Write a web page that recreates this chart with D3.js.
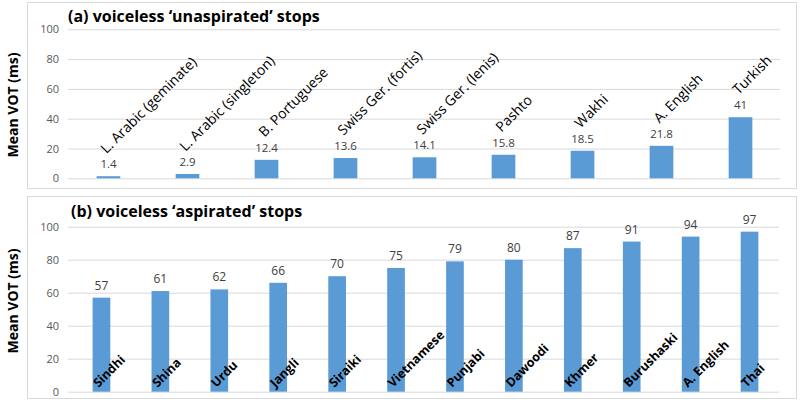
<!DOCTYPE html>
<html>
<head>
<meta charset="utf-8">
<script src="https://cdn.jsdelivr.net/npm/d3@7"></script>
<style>
  body { margin: 0; background: #fff; }
  svg { display: block; font-family: "Open Sans", sans-serif; }
</style>
</head>
<body>
<svg id="chart"></svg>
<script>
const catsA = ["L. Arabic (geminate)", "L. Arabic (singleton)", "B. Portuguese", "Swiss Ger. (fortis)",
  "Swiss Ger. (lenis)", "Pashto", "Wakhi", "A. English", "Turkish"];
const valsA = [1.4, 2.9, 12.4, 13.6, 14.1, 15.8, 18.5, 21.8, 41];
const labelsA = ["1.4", "2.9", "12.4", "13.6", "14.1", "15.8", "18.5", "21.8", "41"];

const catsB = ["Sindhi", "Shina", "Urdu", "Jangli", "Siraiki", "Vietnamese", "Punjabi", "Dawoodi",
  "Khmer", "Burushaski", "A. English", "Thai"];
const valsB = [57, 61, 62, 66, 70, 75, 79, 80, 87, 91, 94, 97];

const yTicks = [0, 20, 40, 60, 80, 100];
const titleA = "(a) voiceless \u2018unaspirated\u2019 stops";
const titleB = "(b) voiceless \u2018aspirated\u2019 stops";
const yTitle = "Mean VOT (ms)";

const width = 800, height = 402;
const blue = "#5b9bd5";

const svg = d3.select("#chart").attr("width", width).attr("height", height);

function panel(opt) {
  const g = svg.append("g");

  // frame
  g.append("rect")
    .attr("x", opt.box[0] + 0.5).attr("y", opt.box[1] + 0.5)
    .attr("width", opt.box[2] - opt.box[0]).attr("height", opt.box[3] - opt.box[1])
    .attr("fill", "#fff").attr("stroke", "#d9d9d9");

  const x = d3.scaleBand().domain(opt.cats).range([opt.left, opt.right]);
  const y = d3.scaleLinear().domain([0, 100]).range([opt.bottom, opt.top]);

  // gridlines + tick labels
  const yAxis = g.append("g")
    .attr("transform", `translate(${opt.gridLeft},0)`)
    .call(d3.axisLeft(y).tickValues(yTicks).tickSize(-(opt.right - opt.gridLeft)).tickPadding(9));
  yAxis.select(".domain").remove();
  yAxis.selectAll(".tick line").attr("stroke", "#d9d9d9");
  yAxis.selectAll(".tick text").attr("fill", "#595959").attr("font-size", 11)
    .attr("font-family", "Open Sans, sans-serif");

  const bw = x.bandwidth() * 0.3;
  const data = opt.cats.map((c, i) => ({ c, v: opt.vals[i], i }));

  g.selectAll("rect.bar").data(data).join("rect")
    .attr("class", "bar")
    .attr("x", d => x(d.c) + (x.bandwidth() - bw) / 2)
    .attr("width", bw)
    .attr("y", d => y(d.v))
    .attr("height", d => y(0) - y(d.v))
    .attr("fill", blue);

  // value labels
  g.selectAll("text.val").data(data).join("text")
    .attr("class", "val")
    .attr("x", d => x(d.c) + x.bandwidth() / 2)
    .attr("y", d => y(d.v) - 8)
    .attr("text-anchor", "middle")
    .attr("fill", "#404040")
    .attr("font-size", opt.valSize)
    .text(d => opt.valText ? opt.valText[d.i] : d.v);

  // category labels, rotated
  g.selectAll("text.cat").data(data).join("text")
    .attr("class", "cat")
    .attr("transform", d => `translate(${x(d.c) + x.bandwidth() / 2 + opt.catDx},${opt.catY(y, d.v)}) rotate(-45)`)
    .attr("fill", "#000")
    .attr("font-size", opt.catSize)
    .attr("font-weight", opt.catBold ? "bold" : "normal")
    .text(d => d.c);

  // title
  g.append("text")
    .attr("x", opt.left - 1).attr("y", opt.titleY)
    .attr("font-size", 16).attr("font-weight", "bold").attr("fill", "#000")
    .text(opt.title);

  // y axis title
  g.append("text")
    .attr("transform", `translate(18,${opt.yTitleY}) rotate(-90)`)
    .attr("text-anchor", "middle")
    .attr("font-size", 14).attr("font-weight", "bold").attr("fill", "#000")
    .text(yTitle);
}

panel({
  box: [27, 2, 796, 188],
  cats: catsA, vals: valsA, valText: labelsA,
  left: 69, right: 780, gridLeft: 68, top: 29.3, bottom: 178.3,
  valSize: 11.5, catSize: 14, catBold: false, catDx: -2,
  catY: (y, v) => y(v) - 22,
  title: titleA, titleY: 22, yTitleY: 105
});

panel({
  box: [27, 196, 796, 398],
  cats: catsB, vals: valsB,
  left: 72, right: 779, gridLeft: 68, top: 226.7, bottom: 391.7,
  valSize: 12, catSize: 12.5, catBold: true, catDx: -3,
  catY: () => 388,
  title: titleB, titleY: 217, yTitleY: 301
});
</script>
</body>
</html>
